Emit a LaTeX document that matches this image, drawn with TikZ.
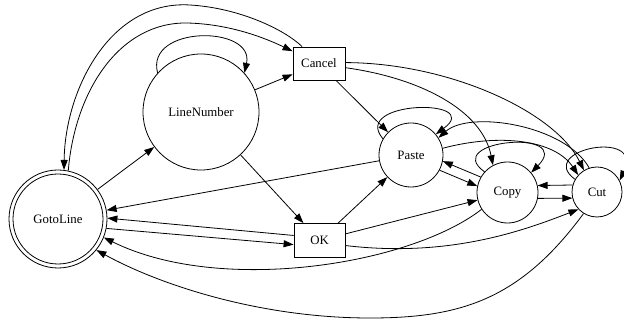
\documentclass[tikz,border=0pt]{standalone}
\usepackage{fontspec}
\setmainfont{Liberation Serif}
\usetikzlibrary{arrows.meta}
\begin{document}
\begin{tikzpicture}[x=1pt,y=-1pt,
  lbl/.style={font=\fontsize{12.8}{15}\selectfont},
  state/.style={circle,draw,inner sep=0pt,line width=0.8pt,lbl},
  boxnode/.style={rectangle,draw,inner sep=0pt,line width=0.8pt,lbl},
  edge/.style={line width=0.8pt,-{Triangle[length=10pt,width=7pt]}}]
\useasboundingbox (0,0) rectangle (624,320);
\node[state,minimum size=98pt] (G) at (58,219) {GotoLine};
\draw[line width=0.8pt] (G.center) circle[radius=45pt];
\node[state,minimum size=116pt] (LN) at (201,112) {LineNumber};
\node[boxnode,minimum width=52pt,minimum height=33pt] (Ca) at (319,63.5) {Cancel};
\node[boxnode,minimum width=51pt,minimum height=34pt] (OK) at (319.5,240.5) {OK};
\node[state,minimum size=64pt] (Pa) at (411,155) {Paste};
\node[state,minimum size=61pt] (Co) at (507.5,192.5) {Copy};
\node[state,minimum size=50pt] (Cu) at (597,192) {Cut};
% edges
\draw[edge] (G) -- (LN);
\draw[edge] (LN.138) .. controls (145,25) and (255,25) .. (LN.42);
\draw[edge] (LN) -- (Ca);
\draw[edge] (LN) -- (OK);
\draw[edge] (Ca.135) .. controls (285,30) and (240,8) .. (190,5) .. controls (110,0) and (65,90) .. (G.83);
\draw[edge] (G.78) .. controls (75,90) and (120,22) .. (187,23) .. controls (230,24) and (265,38) .. (Ca.155);
\draw[edge] (Ca) -- (Pa);
\draw[edge] (Ca.-9) .. controls (420,78) and (482,110) .. (Co.118);
\draw[edge] (Ca.2) .. controls (450,63) and (555,112) .. (Cu.121);
\draw[edge] (Pa.150) .. controls (350,100) and (485,98) .. (Pa.40);
\draw[edge] (Pa) -- (G);
\draw[edge] (OK.169) -- (G.1);
\draw[edge] (G.-11) -- (OK.189);
\draw[edge] (Co.213) .. controls (410,265) and (220,295) .. (G.-22);
\draw[edge] (Cu.238) .. controls (520,300) and (460,318) .. (370,318) .. controls (260,318) and (160,285) .. (G.-39);
\draw[edge] (OK) -- (Pa);
\draw[edge] (OK) -- (Co);
\draw[edge] (OK.-11) .. controls (450,258) and (525,230) .. (Cu.223);
\draw[edge] (Pa.-28) -- (Co.168);
\draw[edge] (Co.150) -- (Pa.-11);
\draw[edge] (Co.138) .. controls (440,140) and (575,128) .. (Co.40);
\draw[edge] (Co.-11) -- (Cu.194);
\draw[edge] (Cu.164) -- (Co.13);
\draw[edge] (Cu.108) .. controls (565,125) and (470,110) .. (Pa.32);
\draw[edge] (Pa.12) .. controls (500,133) and (555,140) .. (Cu.138);
\draw[edge] (Cu.150) .. controls (535,150) and (645,128) .. (Cu.27);
\end{tikzpicture}
\end{document}
